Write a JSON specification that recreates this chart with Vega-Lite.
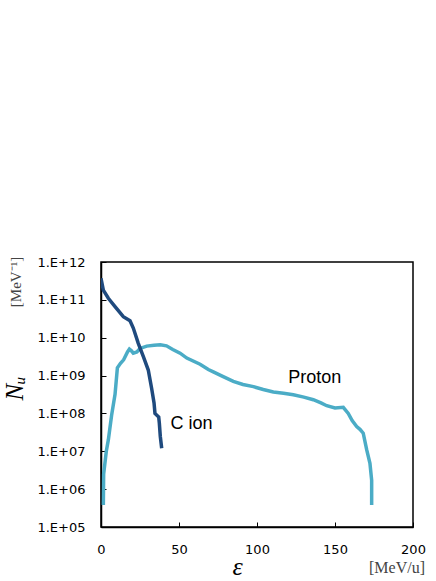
{
  "$schema": "https://vega.github.io/schema/vega-lite/v6.json",
  "width": 312,
  "height": 265,
  "autosize": "none",
  "padding": {"left": 101, "top": 262, "right": 23, "bottom": 54},
  "background": "white",
  "config": {
    "view": {"stroke": "black", "strokeWidth": 1.5},
    "axis": {
      "grid": false,
      "domainColor": "black",
      "domainWidth": 1.5,
      "tickColor": "black",
      "tickWidth": 1,
      "tickSize": -5,
      "labelFont": "DejaVu Sans",
      "labelFontSize": 13,
      "labelColor": "black",
      "labelFlush": false,
      "labelOverlap": false
    }
  },
  "datasets": {
    "proton": [
      {"E": 1.5, "N": 3.8e5}, {"E": 1.7, "N": 2.5e6}, {"E": 3.4, "N": 1.0e7}, {"E": 4.7, "N": 2.0e7},
      {"E": 6.8, "N": 9.0e7}, {"E": 9.0, "N": 3.2e8}, {"E": 10.5, "N": 1.6e9}, {"E": 12.5, "N": 2.1e9},
      {"E": 14.5, "N": 2.6e9}, {"E": 17.0, "N": 4.2e9}, {"E": 18.2, "N": 5.0e9}, {"E": 19.5, "N": 4.5e9},
      {"E": 20.7, "N": 3.9e9}, {"E": 23.0, "N": 4.2e9}, {"E": 25.0, "N": 5.2e9}, {"E": 29.3, "N": 6.0e9},
      {"E": 34.0, "N": 6.3e9}, {"E": 38.0, "N": 6.5e9}, {"E": 42.0, "N": 6.1e9}, {"E": 46.0, "N": 4.9e9},
      {"E": 50.7, "N": 3.9e9}, {"E": 55.0, "N": 2.9e9}, {"E": 63.5, "N": 2.0e9}, {"E": 68.8, "N": 1.45e9},
      {"E": 72.0, "N": 1.25e9}, {"E": 78.0, "N": 9.5e8}, {"E": 84.8, "N": 7.0e8}, {"E": 91.0, "N": 5.8e8},
      {"E": 97.7, "N": 5.1e8}, {"E": 104.0, "N": 4.3e8}, {"E": 110.5, "N": 3.7e8}, {"E": 117.0, "N": 3.4e8},
      {"E": 123.3, "N": 3.1e8}, {"E": 130.0, "N": 2.7e8}, {"E": 136.1, "N": 2.3e8}, {"E": 141.0, "N": 1.9e8},
      {"E": 144.7, "N": 1.6e8}, {"E": 150.0, "N": 1.4e8}, {"E": 155.3, "N": 1.45e8}, {"E": 158.5, "N": 1.0e8},
      {"E": 161.0, "N": 6.5e7}, {"E": 163.9, "N": 4.5e7}, {"E": 166.0, "N": 3.8e7}, {"E": 168.1, "N": 3.0e7},
      {"E": 170.3, "N": 1.1e7}, {"E": 172.4, "N": 4.8e6}, {"E": 173.5, "N": 1.7e6}, {"E": 173.5, "N": 3.8e5}
    ],
    "cion": [
      {"E": 0, "N": 3.7e11}, {"E": 1.5, "N": 1.8e11}, {"E": 4.7, "N": 1.1e11}, {"E": 9.0, "N": 6.6e10},
      {"E": 14.3, "N": 3.6e10}, {"E": 18.6, "N": 2.8e10}, {"E": 20.7, "N": 1.8e10}, {"E": 23.9, "N": 7.1e9},
      {"E": 27.1, "N": 3.2e9}, {"E": 30.3, "N": 1.4e9}, {"E": 32.5, "N": 4.5e8}, {"E": 34.0, "N": 1.9e8},
      {"E": 34.6, "N": 1.0e8}, {"E": 37.0, "N": 8.0e7}, {"E": 37.4, "N": 5.5e7}, {"E": 38.0, "N": 2.5e7},
      {"E": 38.9, "N": 1.2e7}
    ],
    "notes": [
      {"label": "Proton", "E": 137, "N": 8.7e8},
      {"label": "C ion", "E": 58, "N": 5.4e7}
    ]
  },
  "encoding": {
    "x": {
      "field": "E", "type": "quantitative",
      "scale": {"domain": [0, 200], "nice": false, "zero": false},
      "axis": {
        "values": [0, 50, 100, 150, 200],
        "labelPadding": 21,
        "title": "ε",
        "titleFont": "Liberation Serif",
        "titleFontStyle": "italic",
        "titleFontWeight": "normal",
        "titleFontSize": 26,
        "titleColor": "black",
        "titleX": 136,
        "titleY": 39,
        "titleAlign": "center",
        "titleBaseline": "middle"
      }
    },
    "y": {
      "field": "N", "type": "quantitative",
      "scale": {"type": "log", "domain": [1e5, 1e12], "nice": false},
      "axis": {
        "values": [1e5, 1e6, 1e7, 1e8, 1e9, 1e10, 1e11, 1e12],
        "labelExpr": "'1.E+' + (round(log(datum.value)/LN10) < 10 ? '0' : '') + round(log(datum.value)/LN10)",
        "labelPadding": 21,
        "title": "Nᵤ",
        "titleFont": "Liberation Serif",
        "titleFontStyle": "italic",
        "titleFontWeight": "normal",
        "titleFontSize": 25,
        "titleColor": "black",
        "titleAngle": 270,
        "titleX": -87,
        "titleY": 126,
        "titleAlign": "center",
        "titleBaseline": "middle"
      }
    }
  },
  "layer": [
    {
      "data": {"name": "proton"},
      "mark": {"type": "line", "color": "#4BACC6", "strokeWidth": 3.5, "clip": true},
      "encoding": {"order": {"value": null}}
    },
    {
      "data": {"name": "cion"},
      "mark": {"type": "line", "color": "#1F4A7E", "strokeWidth": 3.5, "clip": true},
      "encoding": {"order": {"value": null}}
    },
    {
      "data": {"name": "notes"},
      "mark": {"type": "text", "font": "Liberation Sans", "fontSize": 18, "color": "black", "align": "center", "baseline": "middle"},
      "encoding": {"text": {"field": "label"}}
    },
    {
      "data": {"values": [{"label": "[MeV⁻¹]", "E": 0, "N": 1e12}]},
      "mark": {"type": "text", "font": "Liberation Serif", "fontSize": 15, "color": "#444444", "align": "center", "baseline": "middle", "angle": 270, "dx": -20, "dy": -85},
      "encoding": {"text": {"field": "label"}}
    },
    {
      "data": {"values": [{"label": "[MeV/u]", "E": 200, "N": 1e5}]},
      "mark": {"type": "text", "font": "Liberation Serif", "fontSize": 16, "color": "#444444", "align": "center", "baseline": "middle", "dx": -16, "dy": 41},
      "encoding": {"text": {"field": "label"}}
    }
  ]
}
